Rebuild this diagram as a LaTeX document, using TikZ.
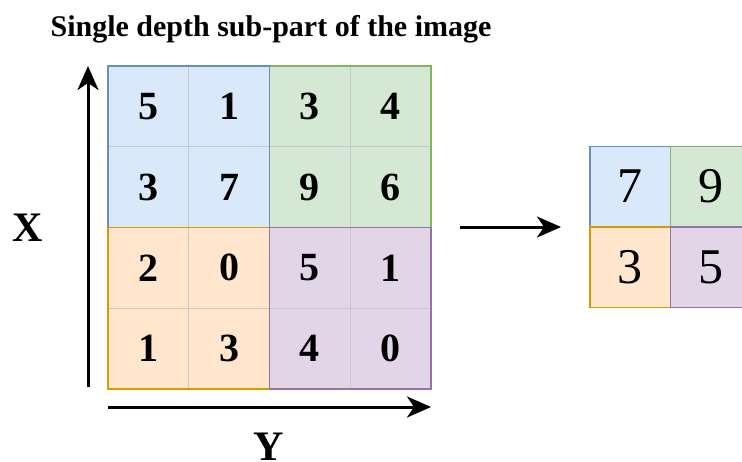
\documentclass[tikz,border=0pt]{standalone}
\usepackage{fontspec}
\setmainfont{Liberation Serif}
\usetikzlibrary{arrows.meta}
\definecolor{bluef}{HTML}{DAE8FC}\definecolor{blued}{HTML}{6C8EBF}
\definecolor{greenf}{HTML}{D5E8D4}\definecolor{greend}{HTML}{82B366}
\definecolor{orangef}{HTML}{FFE6CC}\definecolor{oranged}{HTML}{D79B00}
\definecolor{purplef}{HTML}{E1D5E7}\definecolor{purpled}{HTML}{9673A6}
\definecolor{gridgray}{HTML}{C8C8C8}
\tikzset{
  cell/.style={minimum width=80.75pt, minimum height=80.75pt, inner sep=0pt, outer sep=0pt,
    draw=gridgray, line width=1pt, font=\fontsize{40}{40}\selectfont\bfseries},
  rcell/.style={minimum width=80.5pt, minimum height=80.5pt, inner sep=0pt, outer sep=0pt,
    line width=1.5pt, font=\fontsize{50}{50}\selectfont},
  quad/.style={line width=1.5pt},
  axis/.style={line width=3pt, -{Stealth[length=24pt, width=21pt, inset=7pt]}},
  lbl/.style={font=\fontsize{42}{42}\selectfont\bfseries, inner sep=0pt},
}
\begin{document}
\begin{tikzpicture}[x=1pt,y=-1pt]
\clip (0,0) rectangle (742,461);
% title
\node[anchor=base, inner sep=0pt, font=\fontsize{30}{30}\selectfont\bfseries] (title) at (271,36.5) {Single depth sub-part of the image};
% left grid
\node[cell, fill=bluef] (a11) at (148.375,106.375) {5};
\node[cell, fill=bluef] (a12) at (229.125,106.375) {1};
\node[cell, fill=greenf] (a13) at (309.875,106.375) {3};
\node[cell, fill=greenf] (a14) at (390.625,106.375) {4};
\node[cell, fill=bluef] (a21) at (148.375,187.125) {3};
\node[cell, fill=bluef] (a22) at (229.125,187.125) {7};
\node[cell, fill=greenf] (a23) at (309.875,187.125) {9};
\node[cell, fill=greenf] (a24) at (390.625,187.125) {6};
\node[cell, fill=orangef] (a31) at (148.375,267.875) {2};
\node[cell, fill=orangef] (a32) at (229.125,267.875) {0};
\node[cell, fill=purplef] (a33) at (309.875,267.875) {5};
\node[cell, fill=purplef] (a34) at (390.625,267.875) {1};
\node[cell, fill=orangef] (a41) at (148.375,348.625) {1};
\node[cell, fill=orangef] (a42) at (229.125,348.625) {3};
\node[cell, fill=purplef] (a43) at (309.875,348.625) {4};
\node[cell, fill=purplef] (a44) at (390.625,348.625) {0};
\draw[quad, draw=greend] (a13.north west) rectangle (a24.south east);
\draw[quad, draw=blued] (a11.north west) rectangle (a22.south east);
\draw[quad, draw=oranged] (a31.north west) rectangle (a42.south east);
\draw[quad, draw=purpled] (a33.north west) rectangle (a44.south east);
% axes
\coordinate (vs) at (88,387);
\coordinate (ve) at (88,66);
\coordinate (hs) at (108,407);
\coordinate (he) at (431,407);
\draw[axis] (vs) -- (ve);
\draw[axis] (hs) -- (he);
\node[lbl] (xl) at (28,228) {X};
\node[lbl, anchor=base] (yl) at (269,460) {Y};
% middle arrow
\coordinate (ms) at (460,227);
\coordinate (me) at (561,227);
\draw[axis] (ms) -- (me);
% right grid
\node[rcell, fill=bluef, draw=blued] (b11) at (630.25,186.5) {7};
\node[rcell, fill=greenf, draw=greend] (b12) at (710.75,186.5) {9};
\node[rcell, fill=orangef, draw=oranged] (b21) at (630.25,267) {3};
\node[rcell, fill=purplef, draw=purpled] (b22) at (710.75,267) {5};
\end{tikzpicture}
\end{document}
